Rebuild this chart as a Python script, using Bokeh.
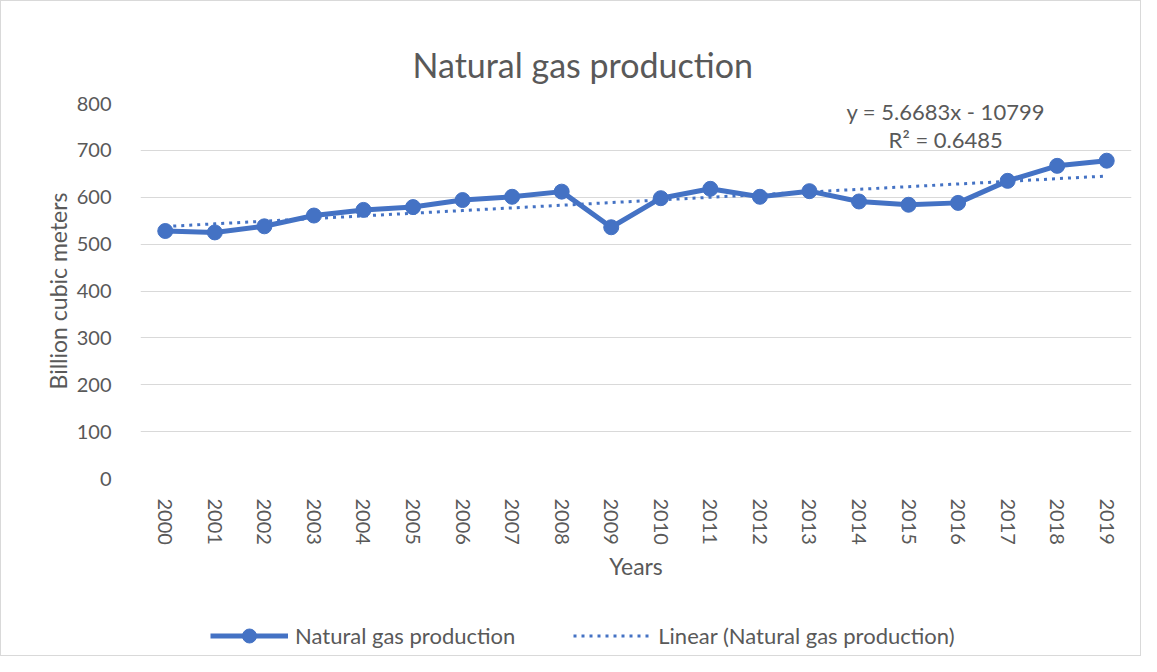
from bokeh.plotting import figure
from bokeh.layouts import column
from bokeh.models import Range1d, FixedTicker, Legend, LegendItem, Label
from bokeh.embed import file_html
from bokeh.resources import INLINE

years = list(range(2000, 2020))
production = [528, 525, 538, 561, 573, 579, 594, 601, 612, 536,
              598, 618, 601, 613, 591, 584, 588, 635, 667, 678]
trend_slope = 5.6683
trend_intercept = -10799
trend_r2 = 0.6485
y_ticks = [0, 100, 200, 300, 400, 500, 600, 700, 800]

BLUE = "#4472C4"
TXT = "#595959"
GRID = "#D9D9D9"
FONT = "Lato"

trend = [trend_slope * x + trend_intercept for x in years]

W = 1141
p = figure(width=W, height=590, output_backend="svg", toolbar_location=None,
           x_range=Range1d(1999.5, 2019.5), y_range=Range1d(0, 800),
           min_border_left=140, min_border_right=10, min_border_top=103, min_border_bottom=112,
           title="Natural gas production")
p.outline_line_color = None
p.background_fill_color = "white"
p.border_fill_color = None

p.title.align = "left"
p.title.offset = 272
p.title.standoff = 38
p.title.text_font = FONT
p.title.text_font_size = "34px"
p.title.text_font_style = "normal"
p.title.text_color = TXT

p.xgrid.grid_line_color = None
p.ygrid.grid_line_color = GRID
p.ygrid.grid_line_width = 1

p.xaxis.ticker = FixedTicker(ticks=years)
p.yaxis.ticker = FixedTicker(ticks=y_ticks)
for ax in (p.xaxis[0], p.yaxis[0]):
    ax.axis_line_color = None
    ax.major_tick_line_color = None
    ax.minor_tick_line_color = None
    ax.major_label_text_font = FONT
    ax.major_label_text_color = TXT
    ax.major_label_text_font_size = "20px"
    ax.axis_label_text_font = FONT
    ax.axis_label_text_color = TXT
    ax.axis_label_text_font_style = "normal"
    ax.axis_label_text_font_size = "23px"
p.xaxis.major_label_orientation = "vertical"
p.xaxis.major_label_standoff = 14
p.xaxis.axis_label = "Years"
p.xaxis.axis_label_standoff = 4
p.yaxis.major_label_standoff = 23
p.yaxis.axis_label = "Billion cubic meters"
p.yaxis.axis_label_standoff = 2

TREND_STYLE = dict(line_color=BLUE, line_width=3, line_dash="3 5")
LINE_STYLE = dict(line_color=BLUE, line_width=5)
MARK_STYLE = dict(size=15, marker="circle", fill_color=BLUE, line_color=BLUE)

p.line(years, trend, **TREND_STYLE)
p.line(years, production, **LINE_STYLE)
p.scatter(years, production, **MARK_STYLE)

p.add_layout(Label(x=2015.75, y=782, text=f"y = {trend_slope}x - {abs(trend_intercept)}",
                   text_align="center", text_baseline="middle", text_font=FONT,
                   text_font_size="22px", text_color=TXT))
p.add_layout(Label(x=2015.75, y=723, text=f"R\u00b2 = {trend_r2}",
                   text_align="center", text_baseline="middle", text_font=FONT,
                   text_font_size="22px", text_color=TXT))

# legend strip under the chart: same series, ranges set so the marks stay out of view
lg = figure(width=W, height=66, output_backend="svg", toolbar_location=None,
            x_range=Range1d(0, 1), y_range=Range1d(0, 1),
            x_axis_location=None, y_axis_location=None,
            min_border=0, min_border_left=0, min_border_right=0,
            min_border_top=0, min_border_bottom=0)
lg.grid.visible = False
lg.outline_line_color = None
lg.background_fill_color = None
lg.border_fill_color = None
l_ln = lg.line(years, production, **LINE_STYLE)
l_sc = lg.scatter(years, production, **MARK_STYLE)
l_tr = lg.line(years, trend, **TREND_STYLE)

legend = Legend(items=[LegendItem(label="Natural gas production", renderers=[l_ln, l_sc]),
                       LegendItem(label="Linear (Natural gas production)", renderers=[l_tr])],
                orientation="horizontal", location=(70, 3),
                glyph_width=78, glyph_height=35, label_standoff=7, spacing=58,
                label_text_font=FONT, label_text_font_size="22px", label_text_color=TXT,
                border_line_color=None, background_fill_alpha=0,
                margin=0, padding=0)
lg.add_layout(legend, "center")

layout = column(p, lg, spacing=0)
layout.styles = {"outline": "1px solid #D9D9D9", "outline-offset": "-1px"}

open("out.html", "w").write(file_html(layout, INLINE))
